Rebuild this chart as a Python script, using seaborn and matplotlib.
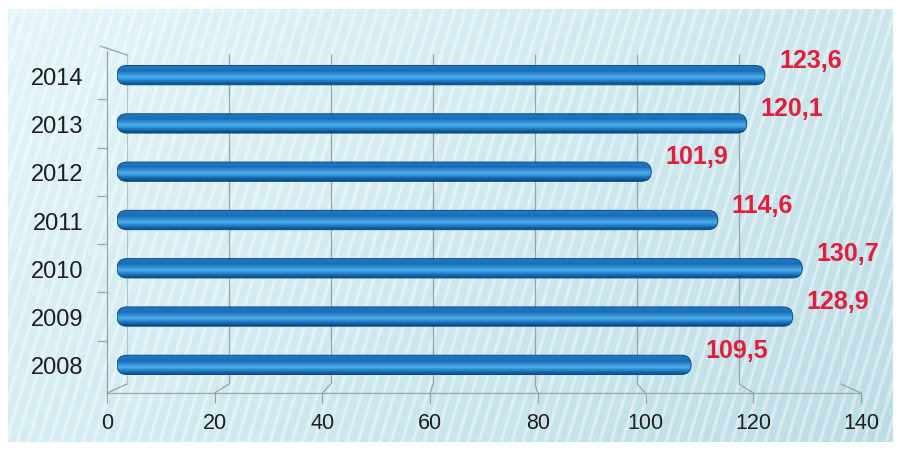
import numpy as np
import pandas as pd
import matplotlib.pyplot as plt
import seaborn as sns
from matplotlib.patches import FancyBboxPatch
from matplotlib.lines import Line2D
from matplotlib.colors import LinearSegmentedColormap

years = ['2014', '2013', '2012', '2011', '2010', '2009', '2008']
values = [123.6, 120.1, 101.9, 114.6, 130.7, 128.9, 109.5]
x_ticks = [0, 20, 40, 60, 80, 100, 120, 140]

W, H = 899, 452
sns.set_theme(style='white')
plt.rcParams['font.family'] = ['Liberation Sans', 'DejaVu Sans']

fig = plt.figure(figsize=(W / 100, H / 100), dpi=100, facecolor='white')


def px_axes(left, top, right, bottom):
    return fig.add_axes([left / W, 1 - bottom / H, (right - left) / W, (bottom - top) / H])


def fig_line(xs, ys, **kw):
    fig.add_artist(Line2D([x / W for x in xs], [1 - y / H for y in ys], **kw))


# 1) background panel with gradient and diagonal stripes
bg = px_axes(8, 10, 893, 443)
gx, gy = np.meshgrid(np.linspace(0, 1, 300), np.linspace(0, 1, 150))
cmap_bg = LinearSegmentedColormap.from_list('bg', ['#e4f5f9', '#d0eaf0', '#bcdce5'])
bg.imshow(0.65 * gx + 0.35 * gy, cmap=cmap_bg, extent=(0, 885, 433, 0), aspect='auto')
for s in np.arange(-200, 900, 11):
    bg.plot([s, s + 130], [433, 0], color='white', alpha=0.4, lw=2.4, solid_capstyle='butt')
bg.set_xlim(0, 885)
bg.set_ylim(433, 0)
bg.axis('off')

# 2) back wall gridlines and floor
grid_c = '#98a3a7'
wall = px_axes(127, 55, 841, 385)
wall.set_xlim(0, 140)
wall.set_ylim(0, 1)
wall.vlines(x_ticks[1:], 0, 1, color=grid_c, lw=0.9)
wall.vlines(0, 0, 1, color='#b4c2c6', lw=0.8)
wall.axis('off')

for v in x_ticks:
    bx = 127 + v * 714 / 140
    fx = 107 + v * 754 / 140
    fig_line([bx, fx], [385, 394], color=grid_c, lw=0.9)
fig_line([100, 127], [47, 56], color=grid_c, lw=0.9)

# 3) front axis: year labels and x ticks
front = px_axes(107, 52, 861, 394)
front.set_facecolor('none')
front.set_xlim(0, 140)
front.set_ylim(-0.5 + 342 / (338 / 7), -0.5)
for side in ['top', 'right']:
    front.spines[side].set_visible(False)
for side in ['left', 'bottom']:
    front.spines[side].set_color(grid_c)
    front.spines[side].set_linewidth(0.9)
front.set_xticks(x_ticks)
front.set_xticklabels([str(t) for t in x_ticks], fontsize=15.5, color='#1f1f1f')
front.set_yticks(range(len(years)))
front.set_yticklabels(years, fontsize=17, color='#1f1f1f')
front.set_yticks(np.arange(0.5, len(years) - 1, 1), minor=True)
front.tick_params(axis='x', length=7, width=0.9, color=grid_c, pad=7, bottom=True)
front.tick_params(axis='y', which='major', length=0, pad=17, left=True)
front.tick_params(axis='y', which='minor', length=7, width=0.9, color=grid_c, left=True)

# 4) bars
ax = px_axes(117, 52, 851, 390)
df = pd.DataFrame({'year': years, 'value': values})
sns.barplot(data=df, x='value', y='year', orient='h', width=0.4, color='#1f7cc6', ax=ax)
ax.set_xlim(0, 140)
ax.set_ylim(len(years) - 0.5, -0.5)
ax.axis('off')

aspect = (734 / 140) / (338 / 7)
cyl = LinearSegmentedColormap.from_list('cyl', [(0, '#2378bf'), (0.3, '#1a6fb9'), (0.6, '#4eaeea'),
                                                (0.78, '#1f80cb'), (1, '#0a4378')])
grad = np.linspace(0, 1, 64)[:, None]
for p in list(ax.patches):
    x0, y0, w, h = p.get_x(), p.get_y(), p.get_width(), p.get_height()
    p.set_visible(False)
    box = FancyBboxPatch((x0, y0), w, h, boxstyle=f'round,pad=0,rounding_size={h / (2 * aspect)}',
                         mutation_aspect=aspect, facecolor='none', edgecolor='#0d4f8c', lw=0.7, zorder=3)
    ax.add_patch(box)
    im = ax.imshow(grad, cmap=cyl, extent=(x0, x0 + w, y0 + h, y0), aspect='auto', zorder=2)
    im.set_clip_path(box)
ax.set_xlim(0, 140)
ax.set_ylim(len(years) - 0.5, -0.5)

for i, v in enumerate(values):
    ax.annotate(f'{v:.1f}'.replace('.', ','), xy=(v, i), xytext=(10, 11), textcoords='offset points',
                ha='left', va='center', color='#e31e3a', fontsize=18, fontweight='bold',
                annotation_clip=False)

fig.savefig('out.png', dpi=100)
